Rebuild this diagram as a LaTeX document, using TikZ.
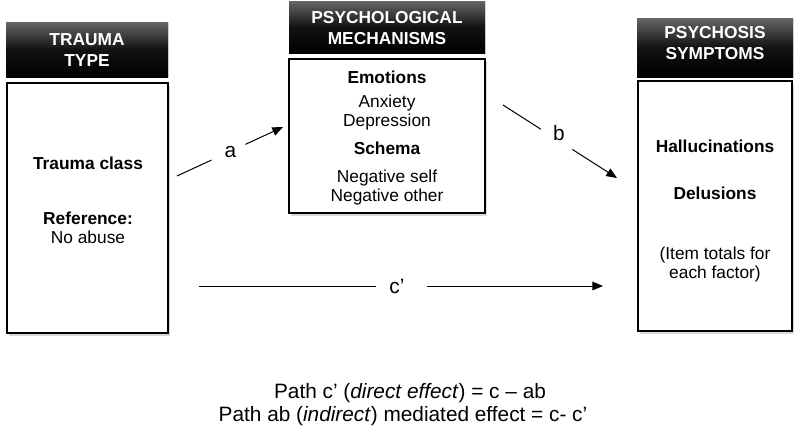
\documentclass[tikz,border=0pt]{standalone}
\usepackage{fontspec}
\setmainfont{Liberation Sans}
\usetikzlibrary{arrows.meta,shadows}
\begin{document}
\begin{tikzpicture}[x=0.75pt,y=-0.75pt,
  txt/.style={font=\fontsize{13}{15.6}\selectfont, text height=9.3pt, text depth=0pt, inner sep=0pt},
  btxt/.style={txt, font=\fontsize{13}{15.6}\selectfont\bfseries},
  htxt/.style={txt, font=\fontsize{13}{15.6}\selectfont\bfseries, text=white},
  bigtxt/.style={font=\fontsize{15.6}{18.7}\selectfont, text height=11.2pt, text depth=0pt, inner sep=0pt},
  lbltxt/.style={font=\fontsize{15.6}{18.7}\selectfont, text height=8.1pt, text depth=0pt, inner sep=0pt},
  header/.style={rectangle, inner sep=0pt, top color=black!60, bottom color=black, middle color=black!93,
    drop shadow={opacity=0.2, shadow xshift=0.8pt, shadow yshift=-1pt}},
  mainbox/.style={rectangle, draw=black, line width=2.2pt, fill=white, inner sep=0pt,
    drop shadow={opacity=0.3, shadow xshift=1.5pt, shadow yshift=-2.5pt}},
  arr/.style={line width=0.75pt, -{Triangle[length=8pt,width=6.5pt]}},
  gapc/.style={circle, fill=white, inner sep=0pt, minimum size=28pt},
  gapr/.style={rectangle, fill=white, inner sep=0pt, minimum width=38pt, minimum height=10pt}
]
\useasboundingbox (0,0) rectangle (800,429);
\fill[white] (0,0) rectangle (800,429);

% headers
\node[header, minimum width=121.5pt, minimum height=41.25pt] (h1) at (87,49.5) {};
\node[header, minimum width=147pt, minimum height=39pt] (h2) at (387,27) {};
\node[header, minimum width=117pt, minimum height=44.25pt] (h3) at (715,47.5) {};

\node[htxt] (h1a) at (87,39) {TRAUMA};
\node[htxt] (h1b) at (87,60) {TYPE};
\node[htxt] (h2a) at (387,17) {PSYCHOLOGICAL};
\node[htxt] (h2b) at (387,38) {MECHANISMS};
\node[htxt] (h3a) at (715,32) {PSYCHOSIS};
\node[htxt] (h3b) at (715,53) {SYMPTOMS};

% boxes
\node[mainbox, minimum width=120.75pt, minimum height=187.5pt] (b1) at (87.5,208) {};
\node[mainbox, minimum width=147pt, minimum height=115.5pt] (b2) at (387,136) {};
\node[mainbox, minimum width=115.5pt, minimum height=187.5pt] (b3) at (715,206) {};

% box 1 text
\node[btxt] (t1) at (88,163) {Trauma class};
\node[btxt] (t2) at (88,218) {Reference:};
\node[txt] (t3) at (88,237) {No abuse};

% box 2 text
\node[btxt] (m1) at (387,77) {Emotions};
\node[txt] (m2) at (387,101) {Anxiety};
\node[txt] (m3) at (387,120) {Depression};
\node[btxt] (m4) at (387,148) {Schema};
\node[txt] (m5) at (387,176) {Negative self};
\node[txt] (m6) at (387,195) {Negative other};

% box 3 text
\node[btxt] (p1) at (715,146) {Hallucinations};
\node[btxt] (p2) at (715,193) {Delusions};
\node[txt] (p3) at (715,253) {(Item totals for};
\node[txt] (p4) at (715,272) {each factor)};

% arrows
\coordinate (as) at (177,176);
\coordinate (ae) at (283,127);
\coordinate (bs) at (503,105);
\coordinate (be) at (617,178);
\coordinate (cs) at (199,286);
\coordinate (ce) at (603,286);
\draw[arr] (as) -- node[gapc, pos=0.486] (ga) {} (ae);
\draw[arr] (bs) -- node[gapc, pos=0.47] (gb) {} (be);
\draw[arr] (cs) -- node[gapr, pos=0.502] (gc) {} (ce);
\node[lbltxt] (la) at (230.5,152.5) {a};
\node[lbltxt] (lb) at (559,135.5) {b};
\node[lbltxt] (lc) at (397,288) {c’};

% bottom text
\node[bigtxt] (f1) at (410,391) {Path c’ (\textit{direct effect}) = c – ab};
\node[bigtxt] (f2) at (403,414) {Path ab (\textit{indirect}) mediated effect = c- c’};
\end{tikzpicture}
\end{document}
